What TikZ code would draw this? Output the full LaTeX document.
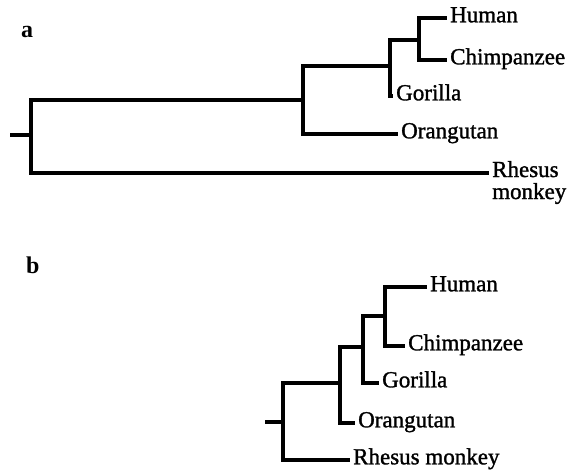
\documentclass[tikz,border=0pt]{standalone}
\usepackage{fontspec}
\setmainfont{Liberation Serif}
\newfontfamily\heavy{Liberation Serif}[BoldFont={Liberation Serif}, BoldFeatures={FakeBold=1.3}]
\begin{document}
\begin{tikzpicture}[x=1pt,y=-1pt,
  br/.style={line width=3.2pt, line join=miter},
  tip/.style={br, shorten >=3pt},
  lbl/.style={inner sep=0pt, font=\heavy\bfseries\fontsize{23}{23}\selectfont},
  leaf/.style={lbl, anchor=west, text height=0.86em, text depth=0pt},
  plain/.style={lbl, anchor=base west},
  panel/.style={anchor=base west, inner sep=0pt, font=\fontsize{24}{24}\selectfont\bfseries}]
\useasboundingbox (0,0) rectangle (572,475);
% ---------- panel a ----------
\node[panel] (pa) at (21,37) {a};
\coordinate (sa) at (10,135);
\coordinate (ra) at (31,135);
\coordinate (a1) at (303,100);
\coordinate (a2) at (390,66);
\coordinate (a3) at (419,40);
\node[leaf] (ahuman) at (450,18) {Human};
\node[leaf] (achimp) at (450,60) {Chimpanzee};
\node[leaf] (agor) at (396,96) {Gorilla};
\node[leaf] (aora) at (401,134) {Orangutan};
\node[plain] (arh) at (492,177) {Rhesus};
\node[plain] (amo) at (492,199) {monkey};
\draw[br] (sa) -- (ra);
\draw[br] (ra) |- (a1);
\draw[tip] (ra) |- ([yshift=4pt]arh.base west);
\draw[br] (a1) |- (a2);
\draw[tip] (a1) |- (aora.west);
\draw[br] (a2) |- (a3);
\draw[tip] (a2) |- (agor.west);
\draw[tip] (a3) |- (ahuman.west);
\draw[tip] (a3) |- (achimp.west);
% ---------- panel b ----------
\node[panel] (pb) at (26,273) {b};
\coordinate (sb) at (265,422);
\coordinate (rb) at (283,422);
\coordinate (b1) at (340,383);
\coordinate (b2) at (363,347);
\coordinate (b3) at (385,316);
\node[leaf] (bhuman) at (430,287) {Human};
\node[leaf] (bchimp) at (408,346) {Chimpanzee};
\node[leaf] (bgor) at (382,383) {Gorilla};
\node[leaf] (bora) at (358,423) {Orangutan};
\node[leaf] (brh) at (353,460) {Rhesus monkey};
\draw[br] (sb) -- (rb);
\draw[br] (rb) |- (b1);
\draw[tip] (rb) |- (brh.west);
\draw[br] (b1) |- (b2);
\draw[tip] (b1) |- (bora.west);
\draw[br] (b2) |- (b3);
\draw[tip] (b2) |- (bgor.west);
\draw[tip] (b3) |- (bhuman.west);
\draw[tip] (b3) |- (bchimp.west);
\end{tikzpicture}
\end{document}
